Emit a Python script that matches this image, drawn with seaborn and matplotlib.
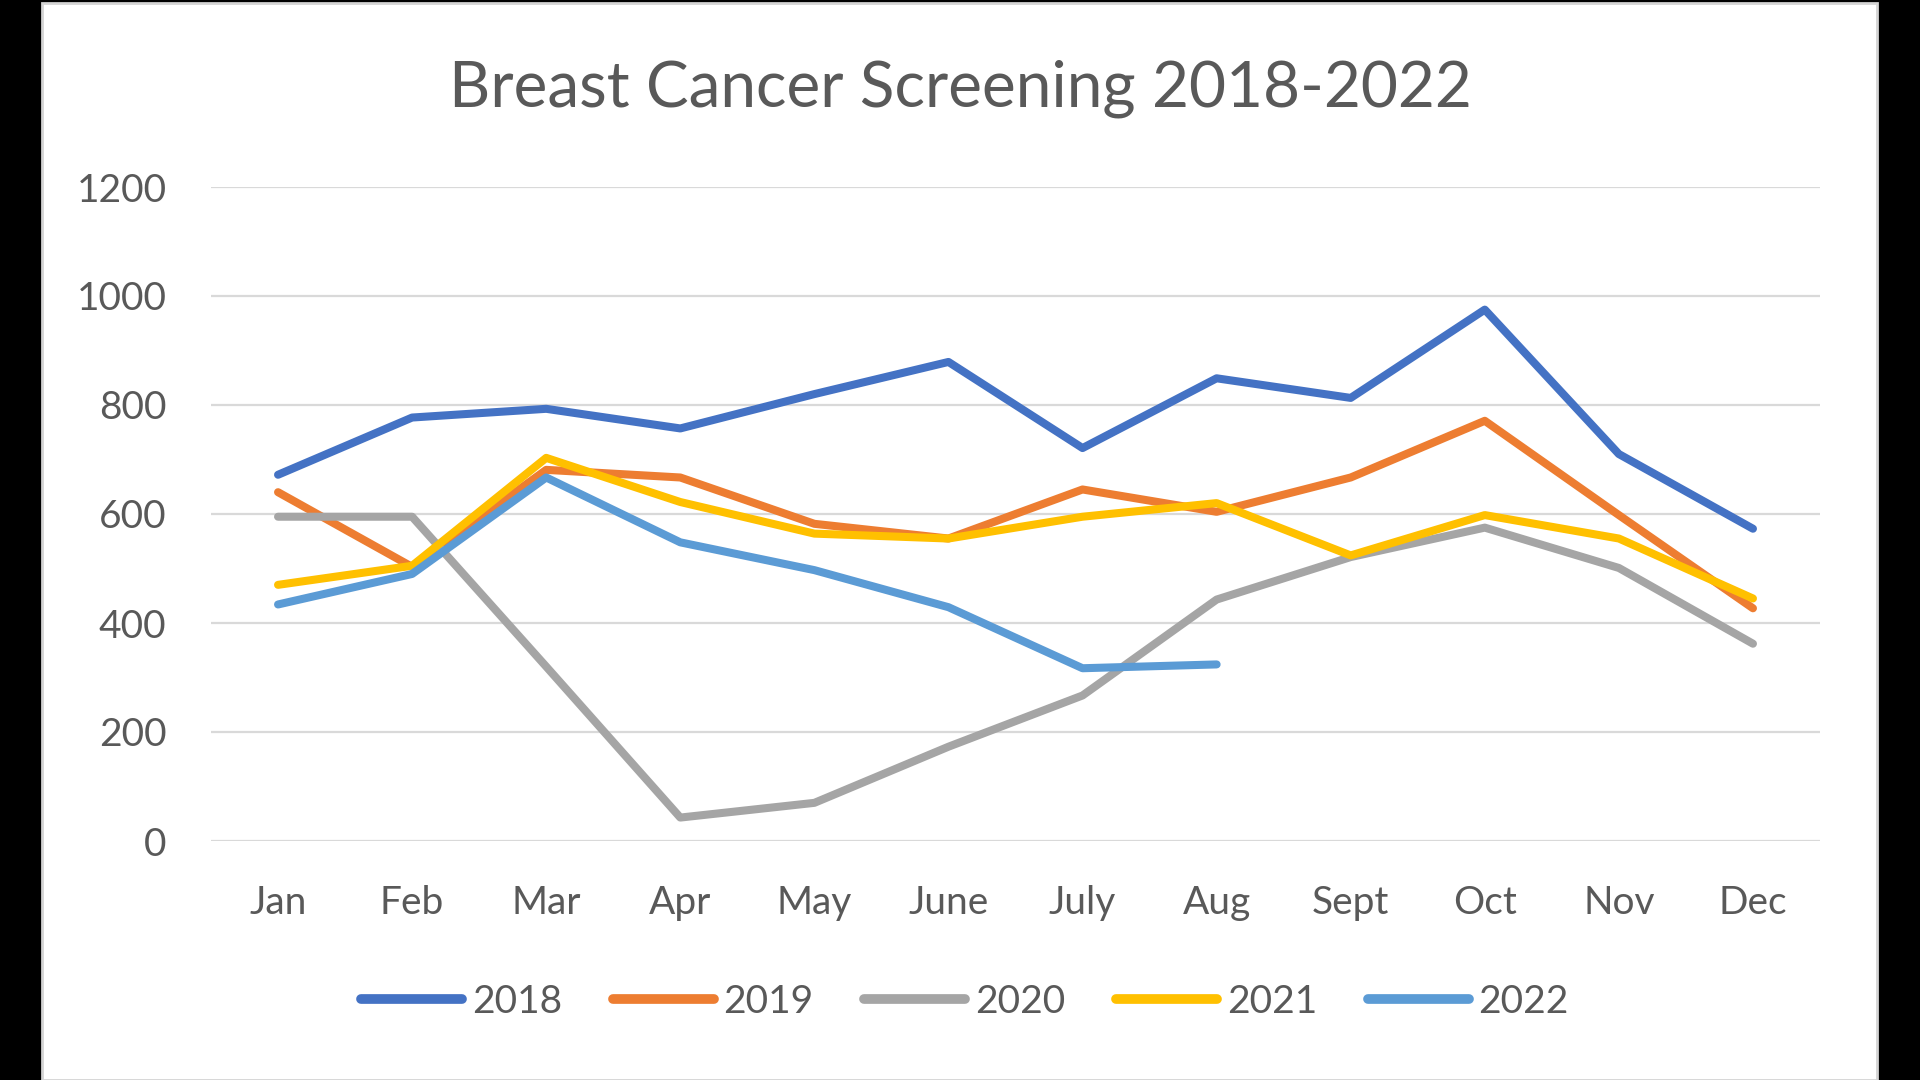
import pandas as pd
import matplotlib.pyplot as plt
import seaborn as sns
from matplotlib.patches import Rectangle

sns.set_theme(style='white')
plt.rcParams['font.family'] = ['Lato', 'DejaVu Sans']

# Dados
meses = ['Jan', 'Feb', 'Mar', 'Apr', 'May', 'June', 'July', 'Aug', 'Sept', 'Oct', 'Nov', 'Dec']
anos = ['2018', '2019', '2020', '2021', '2022']
v2018 = [672, 777, 793, 757, 820, 879, 721, 849, 813, 975, 710, 573]
v2019 = [640, 503, 681, 667, 582, 555, 645, 604, 667, 771, 598, 427]
v2020 = [595, 595, 320, 43, 70, 173, 267, 443, 521, 575, 501, 362]
v2021 = [470, 505, 703, 622, 564, 555, 595, 620, 524, 598, 555, 445]
v2022 = [434, 490, 667, 548, 497, 429, 317, 324, None, None, None, None]
cores = ['#4472C4', '#ED7D31', '#A5A5A5', '#FFC000', '#5B9BD5']

df = pd.DataFrame({'Mes': meses, '2018': v2018, '2019': v2019, '2020': v2020,
                   '2021': v2021, '2022': v2022})
df_long = df.melt(id_vars='Mes', var_name='Ano', value_name='Casos').dropna()

texto = '#595959'
fig = plt.figure(figsize=(19.2, 10.8), dpi=100)
fig.patch.set_facecolor('black')
fig.patches.append(Rectangle((42 / 1920, 0), (1877 - 42) / 1920, 1 - 3 / 1080,
                             transform=fig.transFigure, facecolor='white',
                             edgecolor='#d4d4d4', linewidth=2, zorder=-5))

ax = fig.add_axes([211 / 1920, 1 - 841 / 1080, (1820 - 211) / 1920, (841 - 187) / 1080])
ax.set_zorder(2)
ax.set_facecolor('none')
sns.lineplot(data=df_long, x='Mes', y='Casos', hue='Ano', hue_order=anos,
             palette=cores, linewidth=5.8, sort=False, ax=ax, legend=False)
for ln in ax.lines:
    ln.set_solid_joinstyle('round')

ax.set_xlim(-0.5, 11.5)
ax.set_ylim(0, 1200)
ax.set_yticks(range(0, 1201, 200))
ax.grid(True, axis='y', color='#D9D9D9', linewidth=1.6)
ax.set_axisbelow(True)
for s in ax.spines.values():
    s.set_visible(False)
ax.set_xlabel('')
ax.set_ylabel('')
ax.tick_params(axis='both', length=0, labelsize=28, labelcolor=texto)
ax.tick_params(axis='x', pad=32)
ax.tick_params(axis='y', pad=32)

fig.text(960 / 1920, 1 - 89 / 1080, 'Breast Cancer Screening 2018-2022',
         ha='center', va='center', fontsize=46, color=texto)

handles = [plt.Line2D([], [], color=c, linewidth=7, solid_capstyle='round') for c in cores]
fig.legend(handles, anos, loc='center', bbox_to_anchor=(965 / 1920, 1 - 1002 / 1080),
           ncol=5, frameon=False, fontsize=28, labelcolor=texto,
           handlelength=2.6, handletextpad=0.25, columnspacing=1.3)

fig.savefig('out.png', dpi=100, facecolor=fig.get_facecolor())
